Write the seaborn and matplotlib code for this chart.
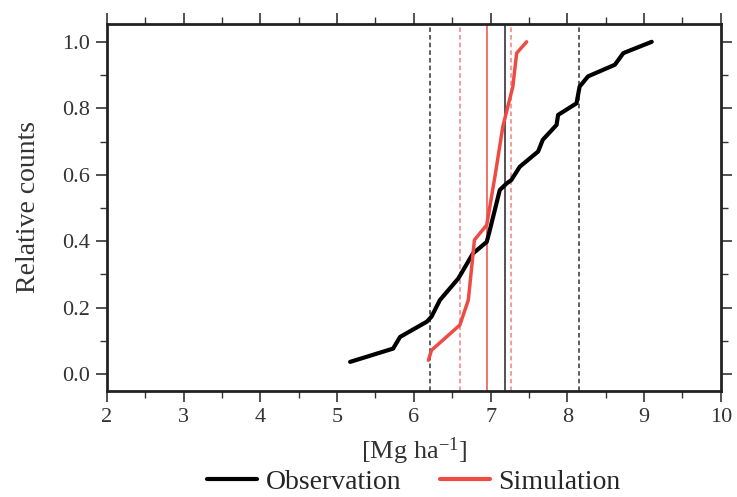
import numpy as np
import pandas as pd
import matplotlib
matplotlib.use("Agg")
import matplotlib.pyplot as plt
import seaborn as sns
from matplotlib.ticker import MultipleLocator, FormatStrFormatter

obs_x = [5.17, 5.73, 5.82, 6.17, 6.23, 6.34, 6.58, 6.77, 6.95, 6.98, 7.12, 7.21, 7.27,
         7.38, 7.62, 7.68, 7.86, 7.88, 8.12, 8.16, 8.27, 8.62, 8.73, 9.10]
obs_y = [0.037, 0.077, 0.112, 0.158, 0.173, 0.223, 0.288, 0.363, 0.398, 0.424, 0.554, 0.574,
         0.584, 0.624, 0.670, 0.705, 0.750, 0.780, 0.815, 0.865, 0.896, 0.931, 0.966, 1.0]
sim_x = [6.19, 6.23, 6.60, 6.71, 6.79, 6.95, 7.06, 7.16, 7.29, 7.34, 7.47]
sim_y = [0.042, 0.072, 0.148, 0.223, 0.404, 0.449, 0.599, 0.745, 0.865, 0.966, 1.0]

obs_mean = 7.19
obs_bounds = [6.21, 8.15]
sim_mean = 6.95
sim_bounds = [6.60, 7.27]

series = ["Observation", "Simulation"]
colors = {"Observation": "black", "Simulation": "#ee4b45"}

df = pd.concat([
    pd.DataFrame({"x": obs_x, "y": obs_y, "series": series[0]}),
    pd.DataFrame({"x": sim_x, "y": sim_y, "series": series[1]}),
], ignore_index=True)

sns.set_theme(style="ticks")
plt.rcParams["font.family"] = ["Liberation Serif", "DejaVu Serif"]
plt.rcParams["mathtext.fontset"] = "custom"
plt.rcParams["mathtext.rm"] = "Liberation Serif"
plt.rcParams["mathtext.it"] = "Liberation Serif:italic"

fig = plt.figure(figsize=(7.37, 4.97), dpi=100)
ax = fig.add_axes([0.145, 0.213, 0.833, 0.739])

sns.lineplot(data=df, x="x", y="y", hue="series", palette=colors, sort=False,
             estimator=None, linewidth=2.5, ax=ax)
ax.lines[0].set_linewidth(3.0)

ax.axvline(obs_mean, color="#444444", lw=1.3, zorder=1)
for b in obs_bounds:
    ax.axvline(b, color="#333333", lw=1.1, ls=(0, (3, 2)), zorder=1)
ax.axvline(sim_mean, color="#ee4b45", lw=1.1, zorder=1)
for b in sim_bounds:
    ax.axvline(b, color="#f08080", lw=1.1, ls=(0, (3, 2)), zorder=1)

ax.set_xlim(2, 10)
ax.set_ylim(-0.051, 1.054)
ax.xaxis.set_major_locator(MultipleLocator(1))
ax.xaxis.set_minor_locator(MultipleLocator(0.5))
ax.yaxis.set_major_locator(MultipleLocator(0.2))
ax.yaxis.set_minor_locator(MultipleLocator(0.1))
ax.yaxis.set_major_formatter(FormatStrFormatter("%.1f"))
ax.tick_params(which="both", top=True, right=True, direction="out", color="#333333",
               labelsize=16, labelcolor="#333333")
ax.tick_params(which="major", length=8, width=1.2, pad=4)
ax.tick_params(which="minor", length=5, width=1.0)
for s in ax.spines.values():
    s.set_linewidth(2.0)
    s.set_color("#222222")

ax.set_xlabel("[Mg ha$^{-1}$]", fontsize=19, color="#333333")
ax.set_ylabel("Relative counts", fontsize=20, color="#333333")
ax.xaxis.set_label_coords(0.5, -0.163)
ax.xaxis.label.set_va("center")
ax.yaxis.set_label_coords(-0.128, 0.5)
ax.yaxis.label.set_va("center")

sns.move_legend(ax, "center", bbox_to_anchor=(0.5, -0.248), ncol=2, frameon=False,
                title=None, fontsize=20, handlelength=1.8, columnspacing=1.4,
                handletextpad=0.3, borderaxespad=0, borderpad=0)
for line in ax.get_legend().get_lines():
    line.set_linewidth(3)

fig.savefig("out.png", dpi=100)
